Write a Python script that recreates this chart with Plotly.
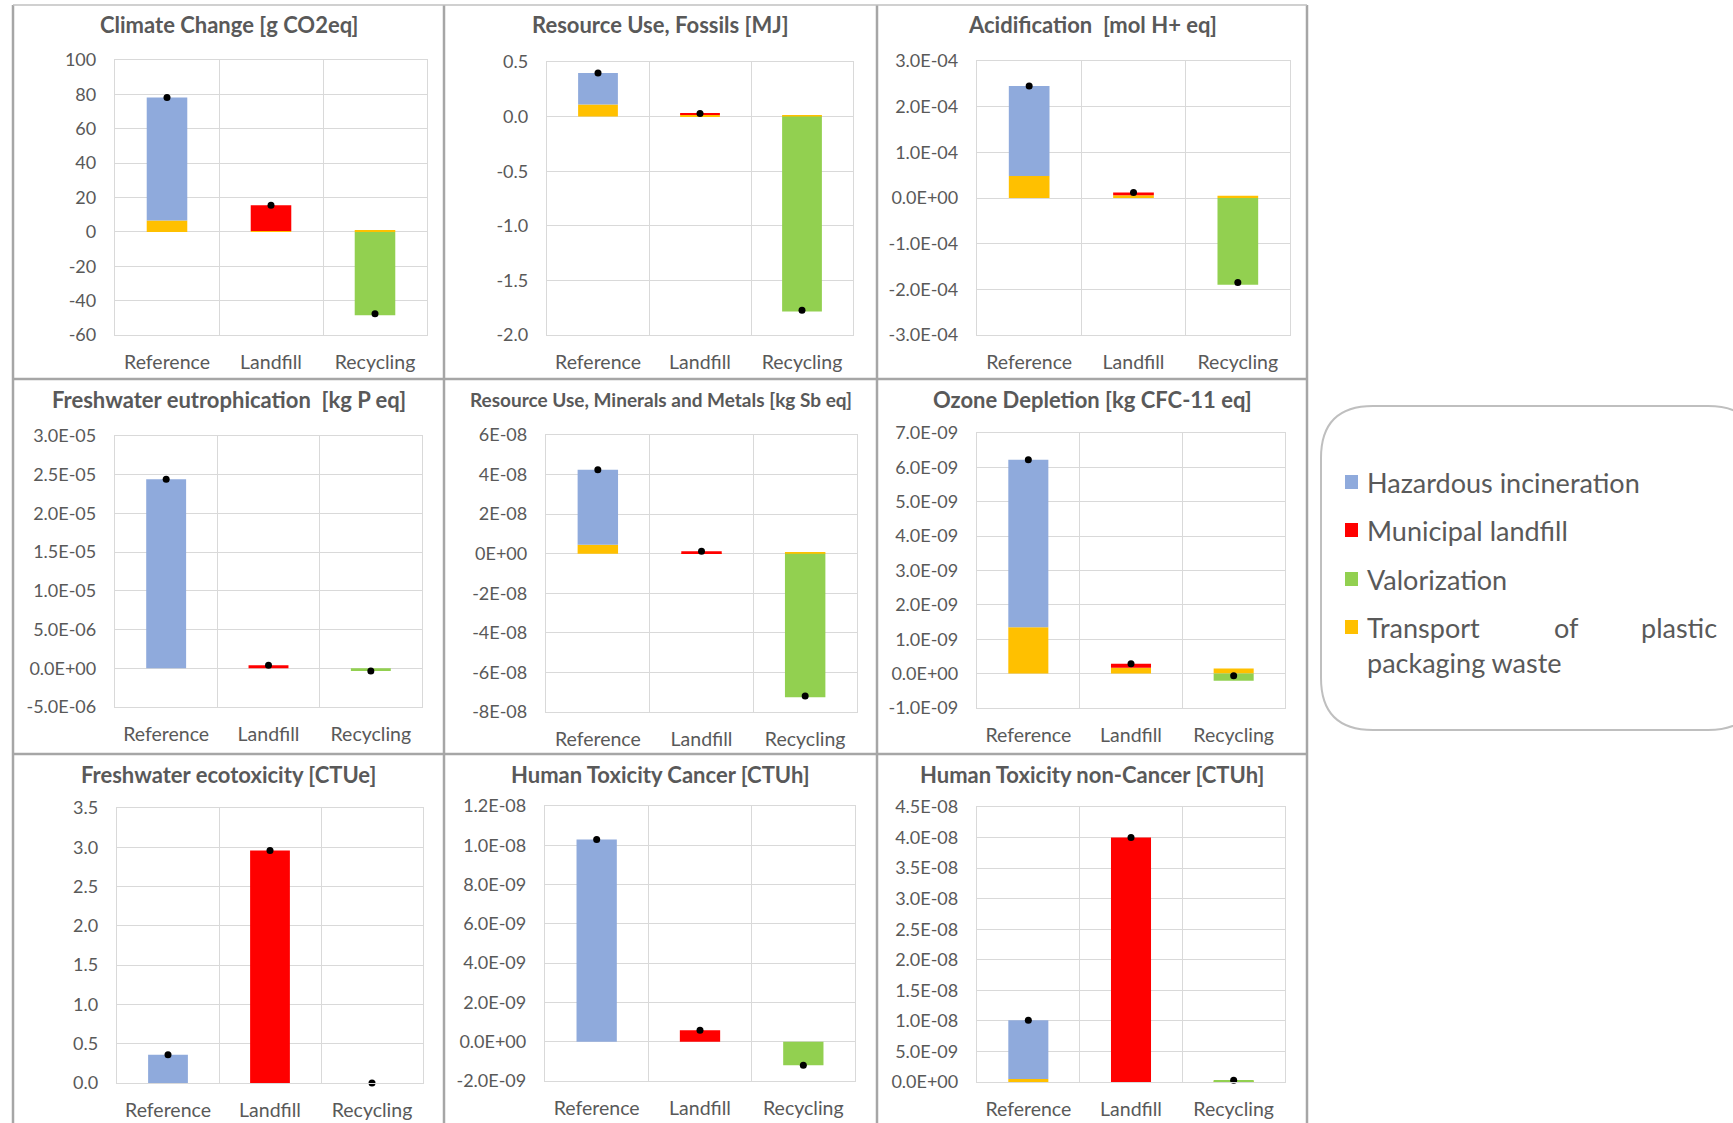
import plotly.graph_objects as go

W, H = 1733, 1123

# ---- data -------------------------------------------------------------
scenarios = ["Reference", "Landfill", "Recycling"]

series_names = ["Transport of plastic packaging waste", "Valorization",
                "Municipal landfill", "Hazardous incineration"]
series_colors = ["#ffc000", "#92d050", "#ff0000", "#8faadc"]

panel_titles = [
    "Climate Change [g CO2eq]",
    "Resource Use, Fossils [MJ]",
    "Acidification  [mol H+ eq]",
    "Freshwater eutrophication  [kg P eq]",
    "Resource Use, Minerals and Metals [kg Sb eq]",
    "Ozone Depletion [kg CFC-11 eq]",
    "Freshwater ecotoxicity [CTUe]",
    "Human Toxicity Cancer [CTUh]",
    "Human Toxicity non-Cancer [CTUh]",
]

# contributions per scenario (Reference, Landfill, Recycling)
transport = [
    [6.6, 0.5, 0.8],
    [0.11, 0.018, 0.012],
    [4.8e-05, 6e-06, 5e-06],
    [0.0, 0.0, 0.0],
    [4.5e-09, 3e-10, 6e-10],
    [1.35e-09, 1.7e-10, 1.5e-10],
    [0.0, 0.0, 0.0],
    [0.0, 0.0, 0.0],
    [5e-10, 0.0, 1e-10],
]
valorization = [
    [0.0, 0.0, -48.5],
    [0.0, 0.0, -1.785],
    [0.0, 0.0, -1.9e-04],
    [0.0, 0.0, -3.5e-07],
    [0.0, 0.0, -7.25e-08],
    [0.0, 0.0, -2.1e-10],
    [0.0, 0.0, 0.0],
    [0.0, 0.0, -1.2e-09],
    [0.0, 0.0, 2e-10],
]
municipal_landfill = [
    [0.0, 15.0, 0.0],
    [0.0, 0.01, 0.0],
    [0.0, 6e-06, 0.0],
    [0.0, 4e-07, 0.0],
    [0.0, 1.0e-09, 0.0],
    [0.0, 1.2e-10, 0.0],
    [0.0, 2.96, 0.0],
    [0.0, 5.8e-10, 0.0],
    [0.0, 4.0e-08, 0.0],
]
hazardous_incineration = [
    [71.6, 0.0, 0.0],
    [0.29, 0.0, 0.0],
    [1.97e-04, 0.0, 0.0],
    [2.44e-05, 0.0, 0.0],
    [3.8e-08, 0.0, 0.0],
    [4.87e-09, 0.0, 0.0],
    [0.36, 0.0, 0.0],
    [1.03e-08, 0.0, 0.0],
    [9.6e-09, 0.0, 0.0],
]

# y-axis ticks per panel
y_tickvals = [
    [-60, -40, -20, 0, 20, 40, 60, 80, 100],
    [-2.0, -1.5, -1.0, -0.5, 0.0, 0.5],
    [-3e-04, -2e-04, -1e-04, 0, 1e-04, 2e-04, 3e-04],
    [-5e-06, 0, 5e-06, 1e-05, 1.5e-05, 2e-05, 2.5e-05, 3e-05],
    [-8e-08, -6e-08, -4e-08, -2e-08, 0, 2e-08, 4e-08, 6e-08],
    [-1e-09, 0, 1e-09, 2e-09, 3e-09, 4e-09, 5e-09, 6e-09, 7e-09],
    [0.0, 0.5, 1.0, 1.5, 2.0, 2.5, 3.0, 3.5],
    [-2e-09, 0, 2e-09, 4e-09, 6e-09, 8e-09, 1e-08, 1.2e-08],
    [0, 5e-09, 1e-08, 1.5e-08, 2e-08, 2.5e-08, 3e-08, 3.5e-08, 4e-08, 4.5e-08],
]
y_ticktext = [
    ["-60", "-40", "-20", "0", "20", "40", "60", "80", "100"],
    ["-2.0", "-1.5", "-1.0", "-0.5", "0.0", "0.5"],
    ["-3.0E-04", "-2.0E-04", "-1.0E-04", "0.0E+00", "1.0E-04", "2.0E-04", "3.0E-04"],
    ["-5.0E-06", "0.0E+00", "5.0E-06", "1.0E-05", "1.5E-05", "2.0E-05", "2.5E-05", "3.0E-05"],
    ["-8E-08", "-6E-08", "-4E-08", "-2E-08", "0E+00", "2E-08", "4E-08", "6E-08"],
    ["-1.0E-09", "0.0E+00", "1.0E-09", "2.0E-09", "3.0E-09", "4.0E-09", "5.0E-09", "6.0E-09", "7.0E-09"],
    ["0.0", "0.5", "1.0", "1.5", "2.0", "2.5", "3.0", "3.5"],
    ["-2.0E-09", "0.0E+00", "2.0E-09", "4.0E-09", "6.0E-09", "8.0E-09", "1.0E-08", "1.2E-08"],
    ["0.0E+00", "5.0E-09", "1.0E-08", "1.5E-08", "2.0E-08", "2.5E-08", "3.0E-08", "3.5E-08", "4.0E-08", "4.5E-08"],
]

# ---- layout geometry (pixels) ------------------------------------------
plot_boxes = [  # x0, x1, y0(top), y1(bottom)
    (115, 427, 60, 335), (547, 853, 62, 335), (977, 1290, 61, 335),
    (115, 422, 436, 707), (546, 857, 435, 712), (977, 1285, 433, 708),
    (117, 423, 808, 1083), (545, 855, 806, 1081), (977, 1285, 807, 1082),
]
cell_x = [(13, 444), (444, 877), (877, 1307)]
title_y = [25, 400, 774]
title_size = [22, 22, 22, 22, 19, 22, 22, 22, 22]

FONT = "Lato"
TXT = "#595959"
GRID = "#d9d9d9"

fig = go.Figure()
layout_axes = {}

for i in range(9):
    x0, x1, yt, yb = plot_boxes[i]
    xa = "xaxis" if i == 0 else f"xaxis{i + 1}"
    ya = "yaxis" if i == 0 else f"yaxis{i + 1}"
    xref = "x" if i == 0 else f"x{i + 1}"
    yref = "y" if i == 0 else f"y{i + 1}"

    stacks = [transport[i], valorization[i], municipal_landfill[i], hazardous_incineration[i]]
    for name, color, vals in zip(series_names, series_colors, stacks):
        fig.add_trace(go.Bar(
            x=scenarios, y=vals, name=name, marker=dict(color=color, line=dict(width=0)),
            width=0.39, showlegend=False, xaxis=xref, yaxis=yref,
        ))
    totals = [sum(s[k] for s in stacks) for k in range(len(scenarios))]
    fig.add_trace(go.Scatter(
        x=scenarios, y=totals, mode="markers", name="Total",
        marker=dict(color="black", size=7), showlegend=False,
        xaxis=xref, yaxis=yref, cliponaxis=False,
    ))

    tv = y_tickvals[i]
    layout_axes[xa] = dict(
        domain=[x0 / W, x1 / W], anchor=yref, type="category", automargin=False,
        tickson="boundaries", showgrid=True, gridcolor=GRID, gridwidth=1.3,
        showline=True, linecolor=GRID, linewidth=1.3, mirror=True,
        ticks="outside", ticklen=5, tickcolor="rgba(0,0,0,0)",
        ticklabelstandoff=9,
        tickfont=dict(family=FONT, size=19.5, color=TXT),
        fixedrange=True, zeroline=False,
    )
    layout_axes[ya] = dict(
        domain=[1 - yb / H, 1 - yt / H], anchor=xref, automargin=False,
        range=[min(tv), max(tv)], tickvals=tv, ticktext=y_ticktext[i],
        showgrid=True, gridcolor=GRID, gridwidth=1.3,
        showline=True, linecolor=GRID, linewidth=1.3, mirror=True,
        ticks="outside", ticklen=14, tickcolor="rgba(0,0,0,0)",
        tickfont=dict(family=FONT, size=18, color=TXT),
        zeroline=False, fixedrange=True,
    )

annotations = []
for i, title in enumerate(panel_titles):
    cx0, cx1 = cell_x[i % 3]
    annotations.append(dict(
        text=f"<b>{title}</b>", x=(cx0 + cx1) / 2 / W, y=1 - title_y[i // 3] / H,
        xref="paper", yref="paper", xanchor="center", yanchor="middle",
        showarrow=False, font=dict(family=FONT, size=title_size[i], color=TXT),
    ))

# panel frame lines
BORDER = "#a6a6a6"
shapes = []
for x in (13, 444, 877, 1307):
    shapes.append(dict(type="line", xref="paper", yref="paper",
                       x0=x / W, x1=x / W, y0=1 - 5 / H, y1=0,
                       line=dict(color=BORDER, width=2.5)))
for y in (5, 379, 754):
    shapes.append(dict(type="line", xref="paper", yref="paper",
                       x0=13 / W, x1=1307 / W, y0=1 - y / H, y1=1 - y / H,
                       line=dict(color=BORDER if y != 5 else "#c0c0c0", width=2.5 if y != 5 else 1.5)))

# legend box with rounded corners
bx0, by0, bx1, by1, r = 1321, 406, 1760, 730, 52
path = (f"M {bx0 + r},{by0} L {bx1 - r},{by0} Q {bx1},{by0} {bx1},{by0 + r} "
        f"L {bx1},{by1 - r} Q {bx1},{by1} {bx1 - r},{by1} L {bx0 + r},{by1} "
        f"Q {bx0},{by1} {bx0},{by1 - r} L {bx0},{by0 + r} Q {bx0},{by0} {bx0 + r},{by0} Z")


def px_path(p):
    out = []
    for tok in p.split(" "):
        if "," in tok:
            a, b = tok.split(",")
            out.append(f"{float(a) / W},{1 - float(b) / H}")
        else:
            out.append(tok)
    return " ".join(out)


shapes.append(dict(type="path", xref="paper", yref="paper", path=px_path(path),
                   line=dict(color="#bfbfbf", width=2), fillcolor="rgba(0,0,0,0)"))

legend_order = [3, 2, 1, 0]
legend_rows = [482, 530, 579, 627]
for row_y, k in zip(legend_rows, legend_order):
    shapes.append(dict(type="rect", xref="paper", yref="paper",
                       x0=1345 / W, x1=1358 / W, y0=1 - (row_y - 7) / H, y1=1 - (row_y + 7) / H,
                       fillcolor=series_colors[k], line=dict(width=0)))

LEG_SIZE = 27
legend_words = [
    ("Hazardous incineration", 1365, 482, "left"),
    ("Municipal landfill", 1365, 530, "left"),
    ("Valorization", 1365, 579, "left"),
    ("Transport", 1365, 627, "left"),
    ("of", 1552, 627, "left"),
    ("plastic", 1719, 627, "right"),
    ("packaging waste", 1365, 662, "left"),
]
for txt, x, y, anchor in legend_words:
    annotations.append(dict(
        text=txt, x=x / W, y=1 - y / H, xref="paper", yref="paper",
        xanchor=anchor, yanchor="middle", showarrow=False,
        font=dict(family=FONT, size=LEG_SIZE, color=TXT),
    ))

fig.update_layout(
    width=W, height=H, margin=dict(l=0, r=0, t=0, b=0, autoexpand=False),
    paper_bgcolor="white", plot_bgcolor="white",
    barmode="relative", bargap=0.6,
    showlegend=False, annotations=annotations, shapes=shapes,
    **layout_axes,
)

fig.write_html("out.html", config={"displayModeBar": False})
